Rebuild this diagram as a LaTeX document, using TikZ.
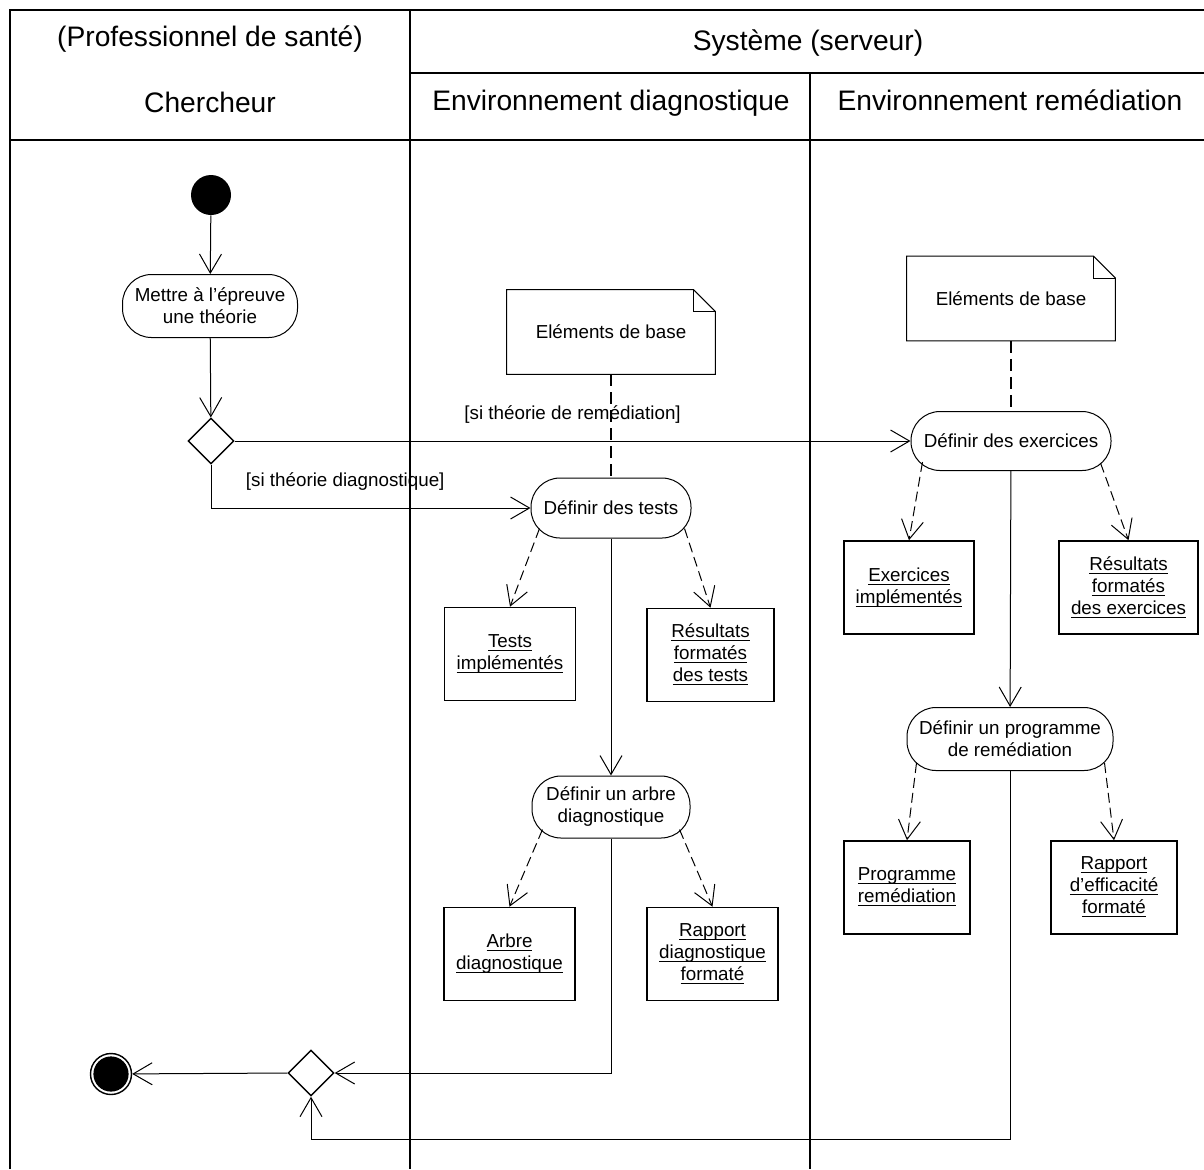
\documentclass[tikz,border=0pt]{standalone}
\usepackage{fontspec}
\setmainfont{Liberation Sans}
\usetikzlibrary{arrows.meta,positioning,calc,shapes.geometric}
\newcommand{\smallfont}{\fontsize{9.4}{11}\selectfont}
\newcommand{\headfont}{\fontsize{14.1}{17}\selectfont}
\newcommand{\ulin}[1]{\underline{\raisebox{0pt}[\height][0pt]{#1}}}
\newcommand{\notefold}[1]{%
  \draw[line width=0.5pt] (#1.south west) -- (#1.north west) -- ([xshift=-11pt]#1.north east)
    -- ([yshift=-11pt]#1.north east) -- (#1.south east) -- cycle;
  \draw[line width=0.5pt] ([xshift=-11pt]#1.north east) |- ([yshift=-11pt]#1.north east);}

\begin{document}
\begin{tikzpicture}[x=0.5pt,y=-0.5pt,
  lane/.style={line width=1pt},
  head/.style={font=\headfont, anchor=base},
  act/.style={draw, line width=0.5pt, rounded corners=14.5pt, align=center, font=\smallfont, inner sep=1pt},
  obj/.style={draw, line width=0.8pt, align=center, font=\smallfont, inner sep=0pt, minimum height=46.5pt},
  notebox/.style={align=center, font=\smallfont, minimum width=104pt, minimum height=42pt},
  decision/.style={diamond, draw, line width=0.7pt, minimum width=23pt, minimum height=23pt, inner sep=0pt},
  flow/.style={-{Straight Barb[length=9.5pt,width=11pt]}, line width=0.5pt},
  dep/.style={flow, dash pattern=on 5pt off 2.5pt},
  link/.style={line width=0.6pt, dash pattern=on 6pt off 3pt},
  guard/.style={font=\smallfont, above=5pt}]
\useasboundingbox (0,0) rectangle (1204,1169);

% swimlanes
\draw[lane] (10,1169) -- (10,10) -- (1204,10);
\draw[lane] (10,140) -- (1204,140);
\draw[lane] (410,10) -- (410,1169);
\draw[lane] (410,73) -- (1204,73);
\draw[lane] (810,73) -- (810,1169);

\node[head] at (210,46) {(Professionnel de santé)};
\node[head] at (210,112) {Chercheur};
\node[head] at (808,50) {Système (serveur)};
\node[head] at (611,110) {Environnement diagnostique};
\node[head] at (1010,110) {Environnement remédiation};

% chercheur
\node[circle, fill=black, minimum size=20pt, inner sep=0pt] (init) at (211,195) {};
\node[act, minimum width=87.5pt, minimum height=31.5pt] (theory) at (210,306) {Mettre à l’épreuve\\une théorie};
\node[decision] (choice) at (211,441) {};
\node[decision] (merge) at (311,1073) {};
\node[circle, draw, line width=0.7pt, minimum size=20.5pt, inner sep=0pt] (final) at (111,1074) {};
\fill (final.center) circle (8.8pt);

% diagnostique
\node[notebox] (baseD) at (611,332) {Eléments de base};
\notefold{baseD}
\node[act, minimum width=80pt, minimum height=30pt] (tests) at (611,508) {Définir des tests};
\node[obj, minimum width=65.5pt] (timpl) at (510,654) {\ulin{Tests}\\\ulin{implémentés}};
\node[obj, minimum width=63.5pt] (tres) at (710.5,655) {\ulin{Résultats}\\\ulin{formatés}\\\ulin{des tests}};
\node[act, minimum width=79pt, minimum height=31pt] (tree) at (611,807) {Définir un arbre\\diagnostique};
\node[obj, minimum width=65.5pt] (arbre) at (509.5,954) {\ulin{Arbre}\\\ulin{diagnostique}};
\node[obj, minimum width=65.5pt] (rapd) at (712.5,954) {\ulin{Rapport}\\\ulin{diagnostique}\\\ulin{formaté}};

% remediation
\node[notebox] (baseR) at (1011,298.5) {Eléments de base};
\notefold{baseR}
\node[act, minimum width=100pt, minimum height=29.5pt] (exo) at (1011,441) {Définir des exercices};
\node[obj, minimum width=65pt] (eimpl) at (909,587.5) {\ulin{Exercices}\\\ulin{implémentés}};
\node[obj, minimum width=69.5pt] (eres) at (1128.5,587.5) {\ulin{Résultats}\\\ulin{formatés}\\\ulin{des exercices}};
\node[act, minimum width=103pt, minimum height=31.5pt] (prog) at (1010,739) {Définir un programme\\de remédiation};
\node[obj, minimum width=63pt] (pimpl) at (907,887.5) {\ulin{Programme}\\\ulin{remédiation}};
\node[obj, minimum width=63pt] (rapr) at (1114,887.5) {\ulin{Rapport}\\\ulin{d’efficacité}\\\ulin{formaté}};
\coordinate (back) at (311,1139);

% control flow
\draw[flow] (init) -- (theory);
\draw[flow] (theory) -- (choice);
\draw[flow] (choice.east) -- node[guard] {[si théorie de remédiation]} (exo.west);
\draw[flow] (choice.south) |- node[guard, pos=0.71] {[si théorie diagnostique]} (tests.west);
\draw[flow] (tests) -- (tree);
\draw[flow] (tree.south) |- (merge.east);
\draw[flow] (exo) -- (prog);
\draw[flow] (prog.south) -- (prog.south |- back) -| (merge.south);
\draw[flow] (merge.west) -- (final);

% notes and objects
\draw[link] (baseD) -- (tests);
\draw[link] (baseR) -- (exo);
\draw[dep] ($(tests.south west)+(9,-10)$) -- (timpl.north);
\draw[dep] ($(tests.south east)+(-7,-10)$) -- (tres.north);
\draw[dep] ($(tree.south west)+(11,-9)$) -- (arbre.north);
\draw[dep] ($(tree.south east)+(-11,-9)$) -- (rapd.north);
\draw[dep] ($(exo.south west)+(12,-9)$) -- (eimpl.north);
\draw[dep] ($(exo.south east)+(-11,-8)$) -- (eres.north);
\draw[dep] ($(prog.south west)+(10,-8)$) -- (pimpl.north);
\draw[dep] ($(prog.south east)+(-9,-8)$) -- (rapr.north);
\end{tikzpicture}
\end{document}
